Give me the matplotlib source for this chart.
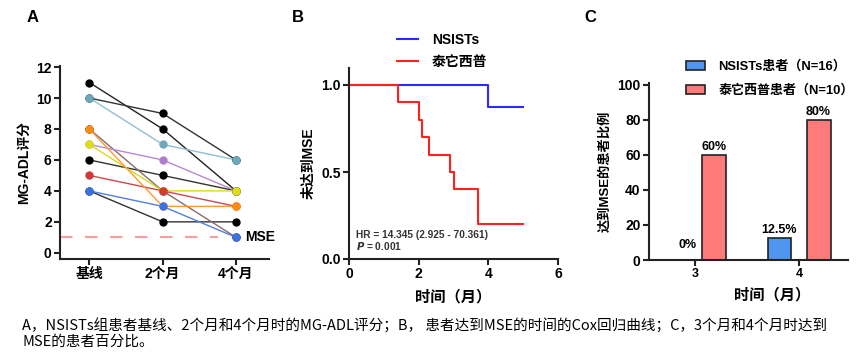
import matplotlib
matplotlib.use('Agg')
import matplotlib.pyplot as plt
from matplotlib.lines import Line2D
from matplotlib.patches import Patch

plt.rcParams['font.family'] = ['Liberation Sans', 'Noto Sans CJK SC', 'DejaVu Sans']
plt.rcParams['font.weight'] = 'bold'
plt.rcParams['axes.labelweight'] = 'bold'
plt.rcParams['axes.unicode_minus'] = False

# panel A: MG-ADL scores per patient (baseline, 2 months, 4 months)
visits = ['基线', '2个月', '4个月']
patient_scores = [
    [11, 8, 4],
    [10, 9, 6],
    [6, 5, 4],
    [4, 2, 2],
    [8, 4, 1],
    [7, 6, 4],
    [7, 4, 4],
    [5, 4, 3],
    [10, 7, 6],
    [8, 3, 3],
    [4, 3, 1],
]
mse_level = 1

# panel B: time to MSE (step curves)
nsists_t = [0, 4.0, 5.0]
nsists_s = [1.0, 0.875, 0.875]
tai_t = [0, 1.4, 2.0, 2.1, 2.3, 2.9, 3.0, 3.7, 5.0]
tai_s = [1.0, 0.9, 0.8, 0.7, 0.6, 0.5, 0.4, 0.2, 0.2]

# panel C: percent reaching MSE
months_c = [3, 4]
nsists_pct = [0, 12.5]
tai_pct = [60, 80]
nsists_lbl = ['0%', '12.5%']
tai_lbl = ['60%', '80%']

W, H = 865, 362
fig = plt.figure(figsize=(W / 100, H / 100), dpi=100)
fig.patch.set_facecolor('white')


def rect(left, right, top, bottom):
    return [left / W, 1 - bottom / H, (right - left) / W, (bottom - top) / H]


def style_axes(ax):
    for s in ['top', 'right']:
        ax.spines[s].set_visible(False)
    for s in ['left', 'bottom']:
        ax.spines[s].set_linewidth(1.5)
        ax.spines[s].set_color('#222222')
    ax.tick_params(width=1.5, length=4, labelsize=10, color='#222222', pad=2)


# ---- A ----
line_colors = ['#222222', '#333333', '#333333', '#333333', '#8a6a6a',
               '#b48ad6', '#d8d820', '#d04848', '#8ec0d0', '#ff9a30', '#5080e0']
marker_colors = ['#000000', '#000000', '#000000', '#000000', '#000000',
                 '#b07cd0', '#dede10', '#d03a3a', '#6aa8ba', '#ff8a10', '#3a70e0']
axA = fig.add_axes(rect(60, 269, 65.5, 259))
xs = list(range(len(visits)))
for sc, lc, mc in zip(patient_scores, line_colors, marker_colors):
    axA.plot(xs, sc, color=lc, lw=1.0, zorder=2)
    axA.plot(xs, sc, 'o', color=mc, ms=6, mec='none', zorder=3)
axA.plot([-0.4, 1.75], [mse_level, mse_level], color='#f4a0a0', lw=1.5,
         dashes=(6, 6), zorder=1)
axA.text(2.13, mse_level, 'MSE', fontsize=10, va='center', ha='left')
axA.set_xlim(-0.4, 2.45)
axA.set_ylim(-0.4, 12.1)
axA.set_yticks(range(0, 13, 2))
axA.set_xticks(xs)
axA.set_xticklabels(visits, fontsize=10.5)
axA.set_ylabel('MG-ADL评分', fontsize=10, labelpad=4)
style_axes(axA)
fig.text(27 / W, 1 - 18 / H, 'A', fontsize=12, va='center', ha='left')

# ---- B ----
axB = fig.add_axes(rect(349, 558, 67.6, 259))
axB.step(nsists_t, nsists_s, where='post', color='#2a2aff', lw=1.5)
axB.step(tai_t, tai_s, where='post', color='#ff2020', lw=1.5)
axB.set_xlim(0, 6)
axB.set_ylim(0, 1.1)
axB.set_xticks([0, 2, 4, 6])
axB.set_yticks([0, 0.5, 1.0])
axB.set_yticklabels(['0.0', '0.5', '1.0'])
axB.set_ylabel('未达到MSE', fontsize=10, labelpad=4)
axB.set_xlabel('时间（月）', fontsize=11, labelpad=6)
style_axes(axB)
axB.text(0.2, 0.138, 'HR = 14.345 (2.925 - 70.361)', fontsize=7.3, color='#333333',
         va='center')
axB.text(0.2, 0.075, r'$\bf{\it{P}}$ = 0.001', fontsize=7.3, color='#333333',
         va='center')
handlesB = [Line2D([], [], color='#2a2aff', lw=1.5), Line2D([], [], color='#ff2020', lw=1.5)]
fig.legend(handlesB, ['NSISTs', '泰它西普'], loc='upper left',
           bbox_to_anchor=(390 / W, 1 - 26 / H), frameon=False, fontsize=10,
           handlelength=1.5, handletextpad=1.0, labelspacing=0.55, borderpad=0)
fig.text(292 / W, 1 - 18 / H, 'B', fontsize=12, va='center', ha='left')

# ---- C ----
axC = fig.add_axes(rect(649, 848, 83, 260))
off, bw = 0.1875, 0.23
axC.bar([m - off for m in months_c], nsists_pct, width=bw, color='#4f96f0',
        edgecolor='#222222', lw=1.2)
axC.bar([m + off for m in months_c], tai_pct, width=bw, color='#ff7b7b',
        edgecolor='#222222', lw=1.2)
for m, v, t in zip(months_c, nsists_pct, nsists_lbl):
    axC.text(m - off + (0.12 if v == 0 else 0), v + (5 if v == 0 else 1), t,
             ha='center', va='bottom', fontsize=9)
for m, v, t in zip(months_c, tai_pct, tai_lbl):
    axC.text(m + off, v + 1, t, ha='center', va='bottom', fontsize=9)
axC.set_xlim(2.56, 4.47)
axC.set_ylim(0, 101)
axC.set_xticks(months_c)
axC.set_yticks(range(0, 101, 20))
axC.set_ylabel('达到MSE的患者比例', fontsize=9.5, labelpad=4)
style_axes(axC)
axC.tick_params(axis='x', labelsize=9)
fig.text(772 / W, 1 - 295 / H, '时间（月）', fontsize=11, ha='center', va='center')
handlesC = [Patch(facecolor='#4f96f0', edgecolor='#222222', lw=1.2),
            Patch(facecolor='#ff7b7b', edgecolor='#222222', lw=1.2)]
fig.legend(handlesC, ['NSISTs患者（N=16）', '泰它西普患者（N=10）'], loc='upper left',
           bbox_to_anchor=(679 / W, 1 - 54 / H), frameon=False, fontsize=9.4,
           handlelength=1.5, handleheight=0.7, handletextpad=1.0, labelspacing=0.85,
           borderpad=0)
fig.text(584 / W, 1 - 18 / H, 'C', fontsize=12, va='center', ha='left')

# caption
caption = ('A，NSISTs组患者基线、2个月和4个月时的MG-ADL评分；B， 患者达到MSE的时间的Cox回归曲线；C，3个月和4个月时达到\n'
           'MSE的患者百分比。')
fig.text(22 / W, 1 - 319 / H, caption, fontsize=10.5, fontweight='normal',
         ha='left', va='top', linespacing=1.1,
         family=['Noto Sans CJK SC', 'DejaVu Sans'])

fig.savefig('out.png', dpi=100)
